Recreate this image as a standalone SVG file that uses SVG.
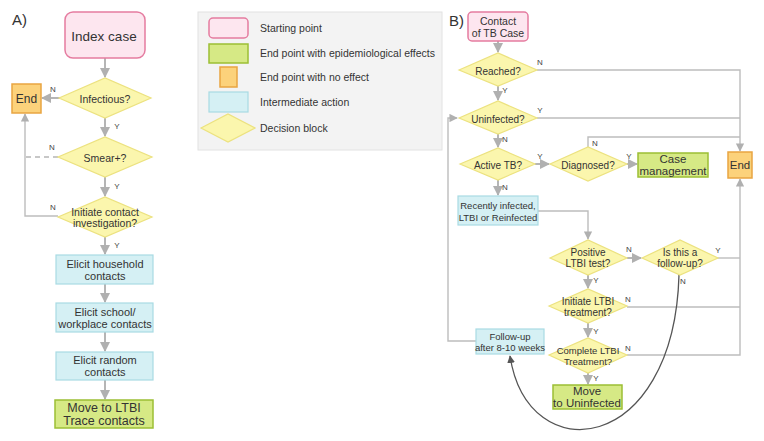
<svg xmlns="http://www.w3.org/2000/svg" width="764" height="441" viewBox="0 0 764 441">
<defs>
<style>
.t{font-family:"Liberation Sans",Arial,sans-serif;fill:#333;text-anchor:middle;dominant-baseline:central}
.lt{font-family:"Liberation Sans",Arial,sans-serif;fill:#333;font-size:10.5px;dominant-baseline:central}
.yn{font-family:"Liberation Sans",Arial,sans-serif;fill:#444;font-size:8px;text-anchor:middle;dominant-baseline:central}
.start{fill:#fde6ef;stroke:#e57ca0;stroke-width:1.5}
.endfx{fill:#d6e985;stroke:#9cbf34;stroke-width:1.5}
.endno{fill:#fcd27b;stroke:#e9a542;stroke-width:1.5}
.mid{fill:#d5f0f4;stroke:#a9dbe3;stroke-width:1.2}
.dec{fill:#fbf6ad;stroke:#ece27f;stroke-width:1.2}
.c{fill:none;stroke:#b5b5b5;stroke-width:2}
.c1{fill:none;stroke:#bdbdbd;stroke-width:1.4}
</style>
<marker id="a" viewBox="0 0 10 10" refX="9" refY="5" markerWidth="5" markerHeight="5" orient="auto" markerUnits="strokeWidth"><path d="M0,0 L10,5 L0,10 z" fill="#b0b0b0"/></marker>
<marker id="a1" viewBox="0 0 10 10" refX="9" refY="5" markerWidth="6" markerHeight="6" orient="auto" markerUnits="strokeWidth"><path d="M0,0 L10,5 L0,10 z" fill="#b0b0b0"/></marker>
<marker id="ad" viewBox="0 0 10 10" refX="9" refY="5" markerWidth="6" markerHeight="6" orient="auto" markerUnits="strokeWidth"><path d="M0,0 L10,5 L0,10 z" fill="#555"/></marker>
</defs>
<rect width="764" height="441" fill="#fff"/>

<text x="12" y="19" class="lt" style="font-size:15px;fill:#333">A)</text>
<text x="449" y="20" class="lt" style="font-size:15px;fill:#333">B)</text>

<!-- Legend -->
<g id="legend">
<rect x="198" y="12" width="244" height="138" fill="#f3f3f3" stroke="#e2e2e2"/>
<rect x="209" y="18" width="39" height="20" rx="4" class="start"/>
<text x="260" y="28" class="lt">Starting point</text>
<rect x="209" y="44" width="39" height="19" class="endfx"/>
<text x="260" y="53" class="lt">End point with epidemiological effects</text>
<rect x="220" y="67" width="17" height="20" class="endno"/>
<text x="260" y="77" class="lt">End point with no effect</text>
<rect x="209" y="92" width="39" height="20" class="mid"/>
<text x="260" y="102" class="lt">Intermediate action</text>
<polygon points="201,128 228,114 255,128 228,142" class="dec"/>
<text x="260" y="128" class="lt">Decision block</text>
</g>

<!-- Connectors A -->
<g id="connectors-a">
<line x1="105" y1="58" x2="105" y2="77" class="c" marker-end="url(#a)"/>
<line x1="60" y1="98" x2="42" y2="98" class="c" marker-end="url(#a)"/>
<line x1="105" y1="118" x2="105" y2="136" class="c" marker-end="url(#a)"/>
<line x1="58" y1="157" x2="26" y2="157" stroke="#b5b5b5" stroke-width="1.5" stroke-dasharray="5,4"/>
<line x1="105" y1="177" x2="105" y2="196" class="c" marker-end="url(#a)"/>
<polyline points="58,216 25,216 25,114" class="c1" marker-end="url(#a1)"/>
<line x1="105" y1="237" x2="105" y2="254" class="c" marker-end="url(#a)"/>
<line x1="105" y1="284" x2="105" y2="302" class="c" marker-end="url(#a)"/>
<line x1="105" y1="332" x2="105" y2="351" class="c" marker-end="url(#a)"/>
<line x1="105" y1="380" x2="105" y2="399" class="c" marker-end="url(#a)"/>
<text x="53" y="89" class="yn">N</text>
<text x="117" y="126" class="yn">Y</text>
<text x="52" y="147" class="yn">N</text>
<text x="117" y="186" class="yn">Y</text>
<text x="53" y="207" class="yn">N</text>
<text x="117" y="245" class="yn">Y</text>
</g>

<!-- Nodes A -->
<g id="a-index"><rect x="65" y="12" width="80" height="46" rx="8" class="start"/><text x="104" y="36" class="t" font-size="13.5">Index case</text></g>
<g id="a-end"><rect x="12" y="84" width="29" height="29" class="endno"/><text x="26.5" y="99" class="t" font-size="12">End</text></g>
<g id="a-infectious"><polygon points="59,98 105,78 151,98 105,118" class="dec"/><text x="105" y="99" class="t" font-size="10.5">Infectious?</text></g>
<g id="a-smear"><polygon points="58,157 105,137 152,157 105,177" class="dec"/><text x="105" y="158" class="t" font-size="10.5">Smear+?</text></g>
<g id="a-initiate"><polygon points="58,217 105,197 152,217 105,237" class="dec"/><text x="105" y="212" class="t" font-size="10.5">Initiate contact</text><text x="105" y="223" class="t" font-size="10.5">investigation?</text></g>
<g id="a-household"><rect x="56" y="255" width="97" height="29" class="mid"/><text x="105" y="264" class="t" font-size="11">Elicit household</text><text x="105" y="276" class="t" font-size="11">contacts</text></g>
<g id="a-school"><rect x="56" y="303" width="97" height="29" class="mid"/><text x="105" y="312" class="t" font-size="11">Elicit school/</text><text x="105" y="324" class="t" font-size="11">workplace contacts</text></g>
<g id="a-random"><rect x="56" y="352" width="97" height="28" class="mid"/><text x="105" y="360" class="t" font-size="11">Elicit random</text><text x="105" y="372" class="t" font-size="11">contacts</text></g>
<g id="a-move"><rect x="55" y="400" width="98" height="28" class="endfx"/><text x="104" y="408" class="t" font-size="12.5">Move to LTBI</text><text x="104" y="421" class="t" font-size="12.5">Trace contacts</text></g>

<!-- Connectors B -->
<g id="connectors-b">
<line x1="498" y1="41" x2="498" y2="52" class="c" marker-end="url(#a)"/>
<polyline points="537,70 740,70 740,151" class="c1" marker-end="url(#a1)"/>
<line x1="537" y1="118" x2="740" y2="118" class="c1"/>
<line x1="498" y1="86" x2="498" y2="100" class="c" marker-end="url(#a)"/>
<polyline points="476,341 448,341 448,118 457,118" class="c1" marker-end="url(#a1)"/>
<line x1="498" y1="134" x2="498" y2="147" class="c" marker-end="url(#a)"/>
<line x1="535" y1="164" x2="549" y2="164" class="c" marker-end="url(#a)"/>
<line x1="627" y1="164" x2="637" y2="164" class="c" marker-end="url(#a)"/>
<polyline points="588,147 588,137 740,137" class="c1"/>
<line x1="498" y1="180" x2="498" y2="195" class="c" marker-end="url(#a)"/>
<polyline points="538,211 588,211 588,239" class="c1" marker-end="url(#a1)"/>
<line x1="627" y1="258" x2="641" y2="258" class="c" marker-end="url(#a)"/>
<line x1="717" y1="258" x2="740" y2="258" class="c1"/>
<line x1="588" y1="275" x2="588" y2="288" class="c" marker-end="url(#a)"/>
<line x1="627" y1="307" x2="740" y2="307" class="c1"/>
<line x1="588" y1="323" x2="588" y2="337" class="c" marker-end="url(#a)"/>
<polyline points="627,355 740,355 740,179" class="c1" marker-end="url(#a1)"/>
<line x1="588" y1="373" x2="588" y2="384" class="c" marker-end="url(#a)"/>
<path d="M679,275 C674,455 528,472 510,356" fill="none" stroke="#555" stroke-width="1.3" marker-end="url(#ad)"/>
<text x="540" y="62" class="yn">N</text>
<text x="505" y="90" class="yn">Y</text>
<text x="540" y="110" class="yn">Y</text>
<text x="505" y="139" class="yn">N</text>
<text x="540" y="156" class="yn">Y</text>
<text x="629" y="156" class="yn">Y</text>
<text x="595" y="143" class="yn">N</text>
<text x="505" y="187" class="yn">N</text>
<text x="629" y="249" class="yn">N</text>
<text x="718" y="250" class="yn">Y</text>
<text x="683" y="281" class="yn">N</text>
<text x="596" y="280" class="yn">Y</text>
<text x="628" y="299" class="yn">N</text>
<text x="596" y="331" class="yn">Y</text>
<text x="628" y="348" class="yn">N</text>
<text x="596" y="378" class="yn">Y</text>
</g>

<!-- Nodes B -->
<g id="b-contact"><rect x="468" y="12" width="60" height="29" rx="4" class="start"/><text x="498" y="21" class="t" font-size="10.5">Contact</text><text x="498" y="33" class="t" font-size="10.5">of TB Case</text></g>
<g id="b-reached"><polygon points="459,70 498,53 537,70 498,86" class="dec"/><text x="498" y="71" class="t" font-size="10">Reached?</text></g>
<g id="b-uninfected"><polygon points="459,118 498,101 537,118 498,134" class="dec"/><text x="498" y="119" class="t" font-size="10">Uninfected?</text></g>
<g id="b-active"><polygon points="460,164 498,148 535,164 498,180" class="dec"/><text x="498" y="165" class="t" font-size="10">Active TB?</text></g>
<g id="b-diagnosed"><polygon points="550,164 588,147 627,164 588,181" class="dec"/><text x="588" y="165" class="t" font-size="10">Diagnosed?</text></g>
<g id="b-case"><rect x="638" y="153" width="70" height="24" class="endfx"/><text x="673" y="159" class="t" font-size="11.5">Case</text><text x="673" y="171" class="t" font-size="11.5">management</text></g>
<g id="b-end"><rect x="728" y="152" width="24" height="26" class="endno"/><text x="740" y="165" class="t" font-size="11.5">End</text></g>
<g id="b-recent"><rect x="458" y="196" width="80" height="29" class="mid"/><text x="498" y="205" class="t" font-size="9.5">Recently infected,</text><text x="498" y="217" class="t" font-size="9.5">LTBI or Reinfected</text></g>
<g id="b-positive"><polygon points="550,258 588,240 627,258 588,275" class="dec"/><text x="588" y="252" class="t" font-size="10">Positive</text><text x="588" y="263" class="t" font-size="10">LTBI test?</text></g>
<g id="b-followq"><polygon points="642,258 680,240 718,258 680,275" class="dec"/><text x="680" y="252" class="t" font-size="10">Is this a</text><text x="680" y="263" class="t" font-size="10">follow-up?</text></g>
<g id="b-initiate"><polygon points="549,306 588,289 627,306 588,323" class="dec"/><text x="588" y="301" class="t" font-size="10">Initiate LTBI</text><text x="588" y="312" class="t" font-size="10">treatment?</text></g>
<g id="b-complete"><polygon points="549,355 588,338 627,355 588,373" class="dec"/><text x="588" y="350" class="t" font-size="9.5">Complete LTBI</text><text x="588" y="361" class="t" font-size="9.5">Treatment?</text></g>
<g id="b-move"><rect x="553" y="385" width="69" height="24" class="endfx"/><text x="587" y="391" class="t" font-size="11.5">Move</text><text x="587" y="403" class="t" font-size="11.5">to Uninfected</text></g>
<g id="b-follow"><rect x="476" y="329" width="68" height="25" class="mid"/><text x="510" y="336" class="t" font-size="9.5">Follow-up</text><text x="510" y="347" class="t" font-size="9.5">after 8-10 weeks</text></g>
</svg>
